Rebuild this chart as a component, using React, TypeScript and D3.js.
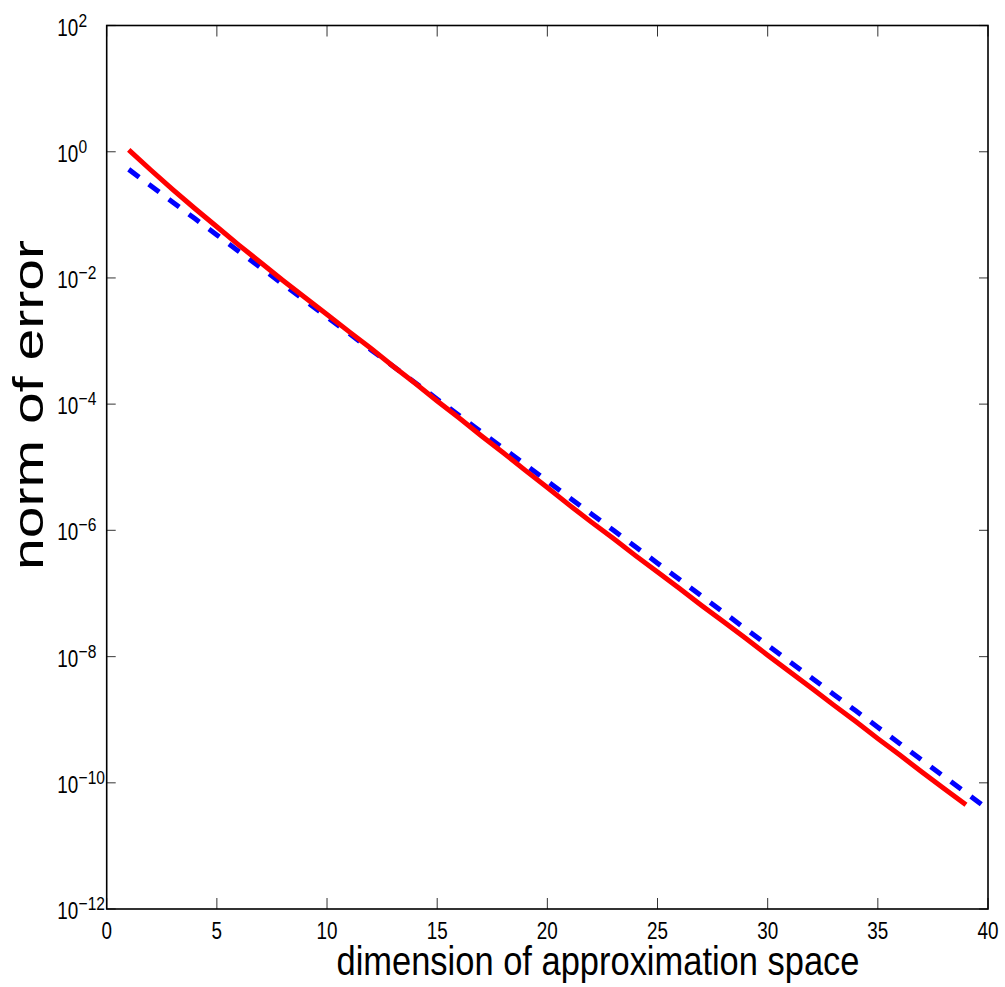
import React from "react";
import * as d3 from "d3";

const xTicks = [0, 5, 10, 15, 20, 25, 30, 35, 40];
const yTickExps = [2, 0, -2, -4, -6, -8, -10, -12];

const redN = [1,2,3,4,5,6,7,8,9,10,11,12,13,14,15,16,17,18,19,20,21,22,23,24,25,26,27,28,29,30,31,32,33,34,35,36,37,38,39];
const redErr = [1.07, 5.13e-1, 2.51e-1, 1.26e-1, 6.46e-2, 3.31e-2, 1.74e-2, 9.12e-3, 4.90e-3, 2.63e-3,
  1.41e-3, 7.59e-4, 3.98e-4, 2.14e-4, 1.12e-4, 6.03e-5, 3.16e-5, 1.70e-5, 8.91e-6, 4.79e-6,
  2.51e-6, 1.35e-6, 7.41e-7, 3.98e-7, 2.19e-7, 1.20e-7, 6.46e-8, 3.55e-8, 1.95e-8, 1.05e-8,
  5.75e-9, 3.16e-9, 1.70e-9, 9.33e-10, 5.01e-10, 2.75e-10, 1.48e-10, 8.13e-11, 4.47e-11];

const blueN = [1,2,3,4,5,6,7,8,9,10,11,12,13,14,15,16,17,18,19,20,21,22,23,24,25,26,27,28,29,30,31,32,33,34,35,36,37,38,39,40];
const blueErr = [5.25e-1, 2.88e-1, 1.58e-1, 8.71e-2, 4.79e-2, 2.63e-2, 1.45e-2, 7.94e-3, 4.37e-3, 2.40e-3,
  1.32e-3, 7.24e-4, 3.98e-4, 2.19e-4, 1.20e-4, 6.61e-5, 3.63e-5, 2.00e-5, 1.10e-5, 6.03e-6,
  3.31e-6, 1.82e-6, 1.00e-6, 5.50e-7, 3.02e-7, 1.66e-7, 9.12e-8, 5.01e-8, 2.75e-8, 1.51e-8,
  8.32e-9, 4.57e-9, 2.51e-9, 1.38e-9, 7.59e-10, 4.17e-10, 2.29e-10, 1.26e-10, 6.92e-11, 3.80e-11];

const xLabel = "dimension of approximation space";
const yLabel = "norm of error";

const W = 1005, H = 987;
const L = 106.7, R = 988, T = 25.5, B = 909;
const FONT = "'Liberation Sans', Arial, Helvetica, sans-serif";

export default function App() {
  const x = d3.scaleLinear().domain([0, 40]).range([L, R]);
  const y = d3.scaleLog().domain([1e-12, 1e2]).range([B, T]);

  const line = d3.line<[number, number]>().x(d => x(d[0])).y(d => y(d[1]));
  const redPath = line(redN.map((n, i) => [n, redErr[i]] as [number, number])) || "";
  const bluePath = line(blueN.map((n, i) => [n, blueErr[i]] as [number, number])) || "";

  return (
    <svg width={W} height={H} style={{ position: "absolute", left: 0, top: 0, background: "#fff" }}>
      <rect x={0} y={0} width={W} height={H} fill="#fff" />
      {/* ticks */}
      {xTicks.map(t => (
        <g key={"xt" + t}>
          <line x1={x(t)} x2={x(t)} y1={B} y2={B - 11} stroke="#333" strokeWidth={1} />
          <line x1={x(t)} x2={x(t)} y1={T} y2={T + 11} stroke="#333" strokeWidth={1} />
          <text x={x(t)} y={939.5} textAnchor="middle" fontFamily={FONT} fontSize={23}
            transform={`translate(${x(t)},0) scale(0.82,1) translate(${-x(t)},0)`} fill="#000">{t}</text>
        </g>
      ))}
      {yTickExps.map(e => {
        const yy = y(Math.pow(10, e));
        const sup = e < 0 ? "\u2212" + Math.abs(e) : String(e);
        return (
          <g key={"yt" + e}>
            <line x1={L} x2={L + 9} y1={yy} y2={yy} stroke="#555" strokeWidth={1.2} />
            <line x1={R} x2={R - 9} y1={yy} y2={yy} stroke="#555" strokeWidth={1.2} />
            <g transform={`translate(57.3,${yy + 10}) scale(0.82,1)`}>
              <text x={0} y={0} fontFamily={FONT} fontSize={23} fill="#000">10</text>
              <text x={26} y={-9} fontFamily={FONT} fontSize={19} fill="#000">{sup}</text>
            </g>
          </g>
        );
      })}
      {/* lines */}
      <path d={bluePath} fill="none" stroke="#0000ff" strokeWidth={5} strokeDasharray="13 12" />
      <path d={redPath} fill="none" stroke="#ff0000" strokeWidth={5} />
      {/* frame */}
      <rect x={L} y={T} width={R - L} height={B - T} fill="none" stroke="#000" strokeWidth={1.6} />
      {/* axis titles */}
      <text x={598} y={975} textAnchor="middle" fontFamily={FONT} fontSize={40}
        textLength={523} lengthAdjust="spacingAndGlyphs" fill="#000">{xLabel}</text>
      <text transform={`translate(43,${405}) rotate(-90)`} textAnchor="middle" fontFamily={FONT} fontSize={42}
        textLength={330} lengthAdjust="spacingAndGlyphs" fill="#000">{yLabel}</text>
    </svg>
  );
}
